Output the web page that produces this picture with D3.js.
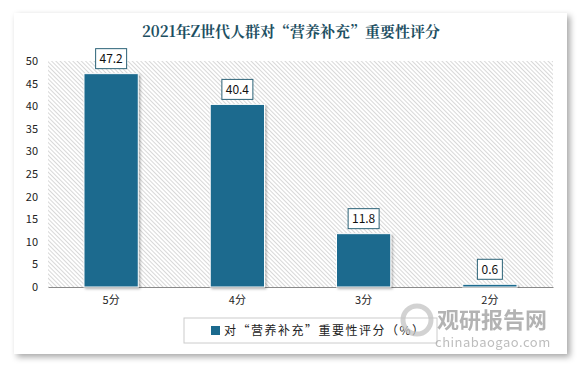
<!DOCTYPE html>
<html>
<head>
<meta charset="utf-8">
<script src="https://cdn.jsdelivr.net/npm/d3@7"></script>
<style>
  html, body { margin: 0; padding: 0; background: #fff; }
  #chart { width: 583px; height: 367px; }
</style>
</head>
<body>
<div id="chart"></div>
<script>
// data
const categories = ['5分', '4分', '3分', '2分'];
const values = [47.2, 40.4, 11.8, 0.6];
const yTicks = [0, 5, 10, 15, 20, 25, 30, 35, 40, 45, 50];
const title = '2021年Z世代人群对“营养补充”重要性评分';
const seriesName = '对“营养补充”重要性评分（%）';

const width = 583, height = 367;
const margin = { top: 61, right: 30, bottom: 80, left: 48 };
const innerWidth = width - margin.left - margin.right;
const innerHeight = height - margin.top - margin.bottom;
const barColor = '#1b6a8e';
const font = '"Noto Sans CJK SC", "Noto Sans", sans-serif';

const svg = d3.select('#chart').append('svg')
    .attr('width', width)
    .attr('height', height);

const defs = svg.append('defs');

// card shadow
const sh = defs.append('filter').attr('id', 'cardShadow')
    .attr('x', '-5%').attr('y', '-5%').attr('width', '110%').attr('height', '110%');
sh.append('feDropShadow').attr('dx', 3).attr('dy', 3).attr('stdDeviation', 3)
    .attr('flood-color', '#000').attr('flood-opacity', 0.35);

const bs = defs.append('filter').attr('id', 'barShadow')
    .attr('x', '-20%').attr('y', '-20%').attr('width', '140%').attr('height', '140%');
bs.append('feDropShadow').attr('dx', 1.5).attr('dy', 1.5).attr('stdDeviation', 1.2)
    .attr('flood-color', '#000').attr('flood-opacity', 0.3);

// hatch (top-left to bottom-right)
const pat = defs.append('pattern').attr('id', 'hatch')
    .attr('patternUnits', 'userSpaceOnUse')
    .attr('width', 3).attr('height', 3)
    .attr('patternTransform', 'rotate(45)');
pat.append('rect').attr('width', 3).attr('height', 3).attr('fill', '#fff');
pat.append('line').attr('x1', 0).attr('y1', 0).attr('x2', 3).attr('y2', 0)
    .attr('stroke', '#c8c8c8').attr('stroke-width', 1.4);

// card
svg.append('rect')
    .attr('x', 14).attr('y', 13)
    .attr('width', 553).attr('height', 341)
    .attr('fill', '#fff')
    .attr('filter', 'url(#cardShadow)');

// title
svg.append('text')
    .attr('x', 291).attr('y', 37)
    .attr('text-anchor', 'middle')
    .attr('fill', '#1d4f62')
    .attr('font-family', '"Noto Serif CJK SC", "DejaVu Serif", ' + font)
    .attr('font-weight', 'bold')
    .attr('font-size', 15)
    .text(title);

const g = svg.append('g')
    .attr('transform', `translate(${margin.left},${margin.top})`);

const xScale = d3.scaleBand()
    .domain(categories)
    .range([0, innerWidth])
    .paddingInner(0.57)
    .paddingOuter(0.285);

const yScale = d3.scaleLinear()
    .domain([0, 50])
    .range([innerHeight, 0]);

// plot background
g.append('rect')
    .attr('width', innerWidth)
    .attr('height', innerHeight)
    .attr('fill', 'url(#hatch)');

// y axis
const leftAxis = d3.axisLeft(yScale).tickValues(yTicks).tickSize(0).tickPadding(10);
const ya = g.append('g').attr('class', 'y-axis').call(leftAxis);
ya.select('.domain').remove();
ya.selectAll('text')
    .attr('font-family', font)
    .attr('font-size', 11)
    .attr('fill', '#222');

// x axis
const bottomAxis = d3.axisBottom(xScale).tickSize(0).tickPadding(9);
const xa = g.append('g').attr('class', 'axis-x')
    .attr('transform', `translate(0,${innerHeight})`)
    .call(bottomAxis);
xa.select('.domain').attr('stroke', '#8a8a8a');
xa.selectAll('text')
    .attr('font-family', font)
    .attr('font-size', 11)
    .attr('fill', '#222');

// bars
g.selectAll('.bar')
    .data(values)
    .enter()
    .append('rect')
    .attr('class', 'bar')
    .attr('x', (d, i) => xScale(categories[i]))
    .attr('y', d => yScale(d))
    .attr('width', xScale.bandwidth())
    .attr('height', d => innerHeight - yScale(d))
    .attr('fill', barColor)
    .attr('stroke', '#fff')
    .attr('stroke-width', 1)
    .attr('filter', 'url(#barShadow)');

// value labels
const lbl = g.selectAll('.lbl')
    .data(values)
    .enter()
    .append('g')
    .attr('class', 'lbl')
    .attr('transform', (d, i) => `translate(${xScale(categories[i]) + xScale.bandwidth() / 2},${yScale(d) - 15})`);

lbl.append('rect')
    .attr('x', d => -(String(d).length * 6 + 7) / 2)
    .attr('y', -10)
    .attr('width', d => String(d).length * 6 + 7)
    .attr('height', 20)
    .attr('fill', '#fff')
    .attr('stroke', '#2b6277')
    .attr('stroke-width', 1);

lbl.append('text')
    .attr('text-anchor', 'middle')
    .attr('dy', '0.36em')
    .attr('font-family', font)
    .attr('font-size', 12)
    .attr('fill', '#111')
    .text(d => d);

// legend
const legend = svg.append('g').attr('transform', 'translate(184,318)');
legend.append('rect')
    .attr('width', 253).attr('height', 25)
    .attr('fill', '#fff')
    .attr('stroke', '#cccccc');
legend.append('rect')
    .attr('x', 27).attr('y', 8)
    .attr('width', 9).attr('height', 9)
    .attr('fill', barColor);
legend.append('text')
    .attr('x', 40).attr('y', 17)
    .attr('font-family', font)
    .attr('font-size', 12)
    .attr('letter-spacing', 1.5)
    .attr('fill', '#222')
    .text(seriesName);

// watermark
const wm = svg.append('g').attr('transform', 'translate(395,300)').attr('opacity', 0.75);
wm.append('circle').attr('cx', 22).attr('cy', 20).attr('r', 14)
    .attr('fill', 'none').attr('stroke', '#c4c4c4').attr('stroke-width', 5);
wm.append('text')
    .attr('x', 42).attr('y', 28)
    .attr('font-family', font)
    .attr('font-weight', 'bold')
    .attr('font-size', 22)
    .attr('fill', '#9a9a9a')
    .text('观研报告网');
wm.append('text')
    .attr('x', 40).attr('y', 47)
    .attr('font-family', font)
    .attr('font-size', 13)
    .attr('letter-spacing', 0.5)
    .attr('fill', '#a8a8a8')
    .text('chinabaogao.com');
</script>
</body>
</html>
